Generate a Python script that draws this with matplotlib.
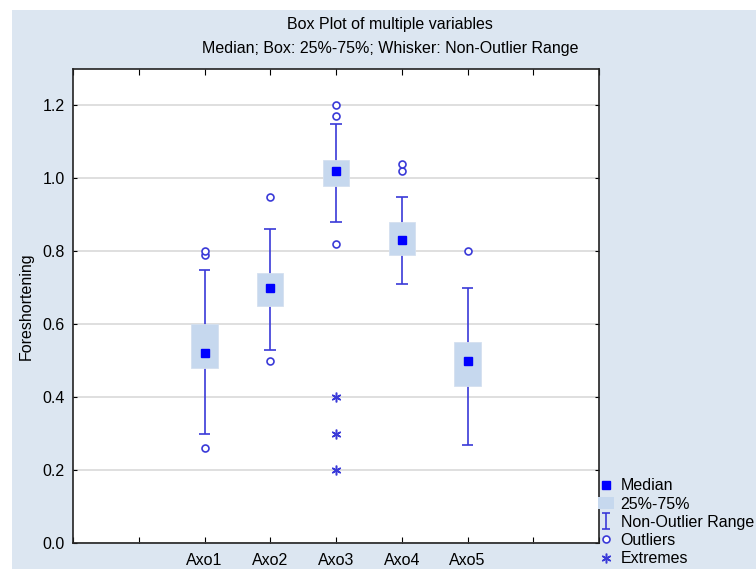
# Box plot of foreshortening per axonometric variable
import matplotlib.pyplot as plt
from matplotlib.lines import Line2D
from matplotlib.patches import Patch, Rectangle
from matplotlib.path import Path

plt.rcParams['font.family'] = ['Liberation Sans', 'DejaVu Sans']

################################### Data #######################################

names     = ['Axo1', 'Axo2', 'Axo3', 'Axo4', 'Axo5']
medians   = [0.52, 0.70, 1.02, 0.83, 0.50]
q1        = [0.48, 0.65, 0.98, 0.79, 0.43]
q3        = [0.60, 0.74, 1.05, 0.88, 0.55]
whisk_lo  = [0.30, 0.53, 0.88, 0.71, 0.27]
whisk_hi  = [0.75, 0.86, 1.15, 0.95, 0.70]
outliers  = [[0.79, 0.80, 0.26], [0.95, 0.50], [1.17, 1.20, 0.82],
             [1.02, 1.04], [0.80]]
extremes  = [[], [], [0.40, 0.30, 0.20], [], []]

################################### Style ######################################

bg_blue   = '#DCE6F1'
box_blue  = '#C6D8EE'
line_blue = '#3a3ad8'
med_blue  = '#0000FF'
box_w     = 0.4
cap_w     = 0.18

fig = plt.figure(figsize=(7.56, 5.69), dpi=100)
fig.patch.set_facecolor('white')
fig.add_artist(Rectangle((12 / 756, 0), 1, 1 - 10 / 569, transform=fig.transFigure,
                         facecolor=bg_blue, edgecolor='none', zorder=-10))

ax = fig.add_axes([73 / 756, 26 / 569, 526 / 756, 474 / 569])
ax.set_facecolor('white')

pos = list(range(2, 2 + len(names)))

ax.bar(pos, [h - l for l, h in zip(q1, q3)], bottom=q1, width=box_w,
       color=box_blue, edgecolor='#d4e0f0', linewidth=0.6, zorder=3)
ax.vlines(pos, whisk_lo, whisk_hi, color=line_blue, linewidth=1.2, zorder=2)
ax.hlines(whisk_lo, [p - cap_w / 2 for p in pos], [p + cap_w / 2 for p in pos],
          color=line_blue, linewidth=1.2, zorder=2)
ax.hlines(whisk_hi, [p - cap_w / 2 for p in pos], [p + cap_w / 2 for p in pos],
          color=line_blue, linewidth=1.2, zorder=2)
ax.plot(pos, medians, 's', color=med_blue, markersize=6, zorder=4)

for p, outs in zip(pos, outliers):
    ax.plot([p] * len(outs), outs, 'o', markerfacecolor='white',
            markeredgecolor=line_blue, markersize=5, markeredgewidth=1.2, zorder=4)
for p, ext in zip(pos, extremes):
    ax.plot([p] * len(ext), ext, marker=(6, 2, 0), linestyle='none',
            color=line_blue, markersize=7, markeredgewidth=1.1, zorder=4)

ax.set_xlim(0, 8)
ax.set_ylim(0, 1.3)
ax.set_xticks(range(9))
ax.set_xticklabels(['', ''] + names + ['', ''], fontsize=11.5)
ax.set_yticks([0, 0.2, 0.4, 0.6, 0.8, 1.0, 1.2])
ax.set_yticklabels(['0.0', '0.2', '0.4', '0.6', '0.8', '1.0', '1.2'], fontsize=11.5)
ax.tick_params(axis='x', direction='in', top=True, length=4, pad=7)
ax.tick_params(axis='y', direction='in', length=3, pad=6, right=True)
ax.yaxis.grid(True, color='#d9d9d9', linewidth=1.2, zorder=0)
ax.set_axisbelow(True)
for s in ax.spines.values():
    s.set_color('#222222')
    s.set_linewidth(1.2)

ax.set_ylabel('Foreshortening', fontsize=11.5)
ax.yaxis.set_label_coords(-0.074, 0.5)

fig.text(390 / 756, 1 - 25 / 569, 'Box Plot of multiple variables',
         ha='center', va='center', fontsize=11.5)
fig.text(390 / 756, 1 - 48 / 569, 'Median; Box: 25%-75%; Whisker: Non-Outlier Range',
         ha='center', va='center', fontsize=11.5)

################################# Legend #######################################

ibeam = Path([(-0.5, -1), (0.5, -1), (0, -1), (0, 1), (-0.5, 1), (0.5, 1)],
             [Path.MOVETO, Path.LINETO, Path.MOVETO, Path.LINETO, Path.MOVETO, Path.LINETO])

handles = [
    Line2D([], [], marker='s', color=med_blue, linestyle='none', markersize=6),
    Patch(facecolor=box_blue, edgecolor='none'),
    Line2D([], [], marker=ibeam, color=line_blue, linestyle='none',
           markersize=12, markeredgewidth=1.2),
    Line2D([], [], marker='o', markerfacecolor='white', markeredgecolor=line_blue,
           linestyle='none', markersize=5, markeredgewidth=1.2),
    Line2D([], [], marker=(6, 2, 0), color=line_blue, linestyle='none',
           markersize=7, markeredgewidth=1.1),
]
labels = ['Median', '25%-75%', 'Non-Outlier Range', 'Outliers', 'Extremes']

fig.legend(handles, labels, loc='lower left', bbox_to_anchor=(588 / 756, -0.012),
           frameon=False, fontsize=11.5, handlelength=1.0, handletextpad=0.45,
           labelspacing=0.2, borderaxespad=0.2)

fig.savefig('out.png', dpi=100, facecolor=fig.get_facecolor())
